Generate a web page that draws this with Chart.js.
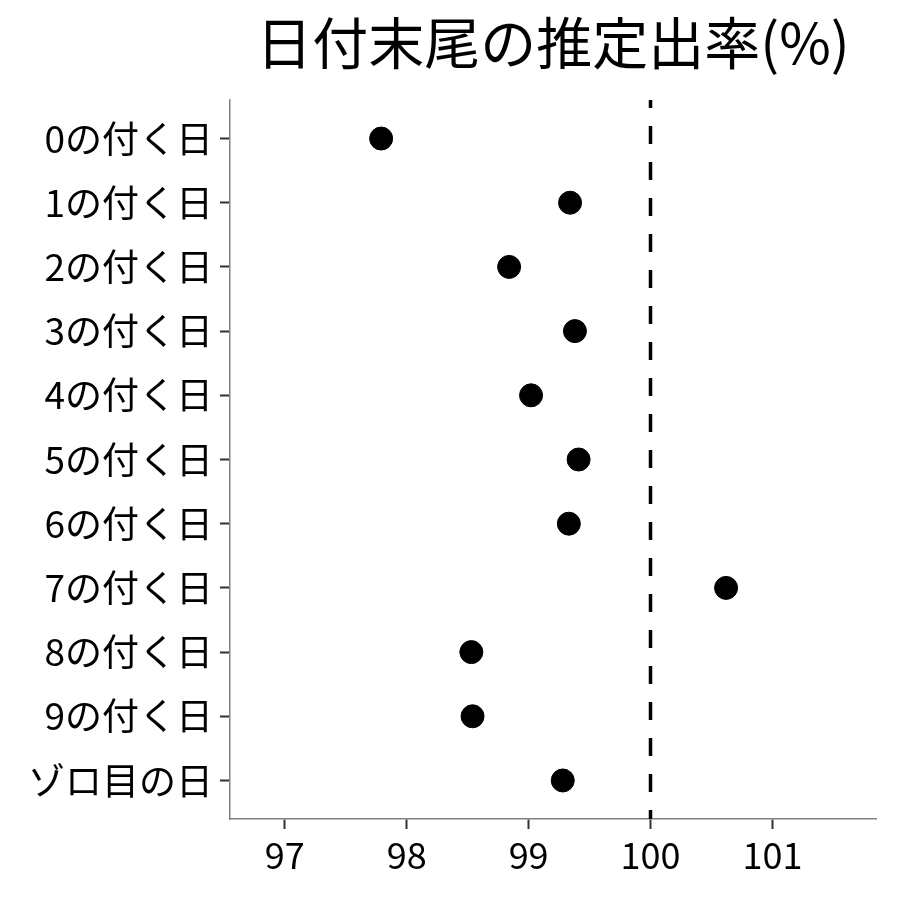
<!DOCTYPE html>
<html>
<head>
<meta charset="utf-8">
<script src="https://cdn.jsdelivr.net/npm/chart.js@4/dist/chart.umd.min.js"></script>
<style>
  html, body { margin: 0; padding: 0; background: #fff; }
  #wrap { width: 900px; height: 900px; }
</style>
</head>
<body>
<div id="wrap"><canvas id="chart" width="900" height="900"></canvas></div>
<script>
const titleText = '日付末尾の推定出率(%)';
const categories = ['0の付く日', '1の付く日', '2の付く日', '3の付く日', '4の付く日',
  '5の付く日', '6の付く日', '7の付く日', '8の付く日', '9の付く日', 'ゾロ目の日'];
const payoutRates = [97.79, 99.34, 98.84, 99.38, 99.02, 99.41, 99.33, 100.62, 98.53, 98.54, 99.28];
const xTickValues = [97, 98, 99, 100, 101];
const referenceLine = 100;

const FONT = '"Noto Sans CJK JP", "Noto Sans", sans-serif';

const titlePlugin = {
    id: 'centerTitle',
    afterDraw(chart) {
        const { ctx, chartArea } = chart;
        ctx.save();
        ctx.fillStyle = '#000';
        ctx.font = '56px ' + FONT;
        ctx.textAlign = 'center';
        ctx.textBaseline = 'middle';
        ctx.fillText(titleText, (chartArea.left + chartArea.right) / 2, 43);
        ctx.restore();
    }
};

const ctx = document.getElementById('chart').getContext('2d');
new Chart(ctx, {
    type: 'scatter',
    data: {
        datasets: [{
            label: 'rate',
            data: payoutRates.map((v, i) => ({ x: v, y: i + 1 })),
            backgroundColor: '#000',
            borderColor: '#000',
            pointRadius: 11.5,
            pointHoverRadius: 11.5
        }, {
            type: 'line',
            label: 'ref',
            data: [{ x: referenceLine, y: 0.4 }, { x: referenceLine, y: categories.length + 0.6 }],
            borderColor: '#000',
            borderWidth: 3.5,
            borderDash: [18, 18],
            borderDashOffset: 10,
            pointRadius: 0,
            fill: false
        }]
    },
    options: {
        responsive: false,
        animation: false,
        layout: { padding: { top: 100, right: 24, left: 0, bottom: 0 } },
        plugins: {
            legend: { display: false },
            tooltip: { enabled: false },
            title: { display: false }
        },
        scales: {
            x: {
                type: 'linear',
                min: 96.55,
                max: 101.85,
                afterBuildTicks: (scale) => { scale.ticks = xTickValues.map(v => ({ value: v })); },
                afterFit: (scale) => { scale.height = 81; },
                grid: { drawOnChartArea: false, drawTicks: true, tickLength: 10, tickColor: '#333', tickWidth: 2 },
                border: { display: true, color: '#808080', width: 1.5 },
                ticks: { color: '#000', font: { family: FONT, size: 36 }, padding: 5 }
            },
            y: {
                type: 'linear',
                reverse: true,
                min: 0.4,
                max: categories.length + 0.6,
                afterBuildTicks: (scale) => { scale.ticks = categories.map((_, i) => ({ value: i + 1 })); },
                afterFit: (scale) => { scale.width = 230; },
                grid: { drawOnChartArea: false, drawTicks: true, tickLength: 10, tickColor: '#333', tickWidth: 2 },
                border: { display: true, color: '#808080', width: 1.5 },
                ticks: {
                    color: '#000',
                    font: { family: FONT, size: 37 },
                    padding: 7,
                    callback: (v) => categories[Math.round(v) - 1]
                }
            }
        }
    },
    plugins: [titlePlugin]
});
</script>
</body>
</html>
